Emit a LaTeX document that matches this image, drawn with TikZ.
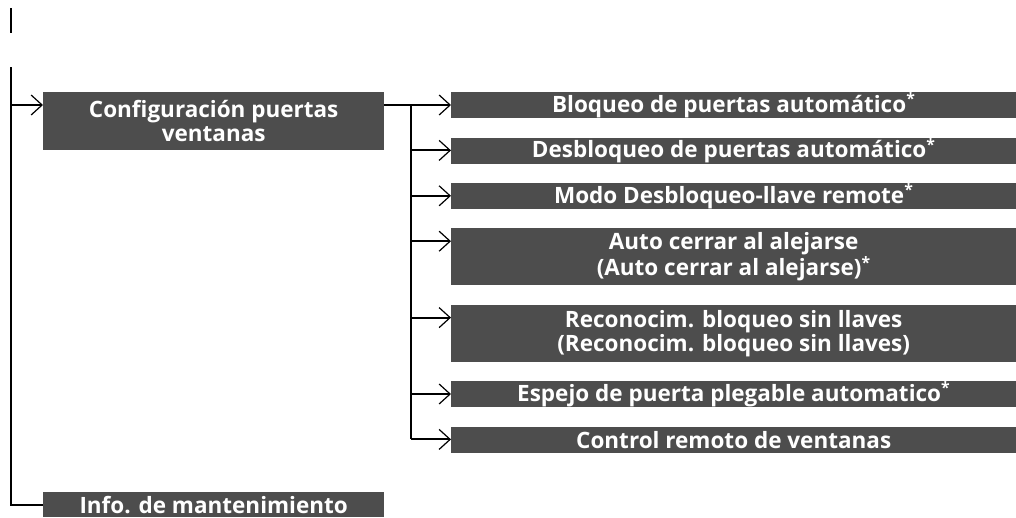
\documentclass[tikz,border=0pt]{standalone}
\usepackage{fontspec}
\setmainfont{Open Sans}
\usetikzlibrary{arrows.meta, positioning}

\definecolor{boxgray}{RGB}{77,77,77}
\newcommand{\optmark}{\textsuperscript{*}}

\tikzset{
  menubox/.style={fill=boxgray, text=white, align=center, inner sep=0pt,
    font=\bfseries\fontsize{22.5}{24}\selectfont},
  leftbox/.style={menubox, minimum width=341pt, minimum height=26pt},
  rightbox/.style={menubox, minimum width=565pt, minimum height=26pt},
  tallbox/.style={rightbox, minimum height=57pt},
  link/.style={line width=2pt},
  menuarrow/.style={link, -{Straight Barb[length=11pt, width=20pt, line width=1.2pt]}},
}

\begin{document}
\begin{tikzpicture}[x=1pt,y=-1pt]
\useasboundingbox (0,0) rectangle (1016,517);
\def\trunkx{11}
\def\splitx{411}

% Top level boxes
\node[leftbox, minimum height=58pt, anchor=north west] (cfg) at (43,92)
  {Configuración puertas\\ventanas};
\node[leftbox, minimum height=25pt, anchor=north west] (info) at (43,492)
  {Info. de mantenimiento};

% Sub menu boxes
\node[rightbox, anchor=north west] (b1) at (451,92) {Bloqueo de puertas automático\optmark};
\node[rightbox, below=19pt of b1] (b2) {Desbloqueo de puertas automático\optmark};
\node[rightbox, below=19pt of b2] (b3) {Modo Desbloqueo-llave remote\optmark};
\node[tallbox, below=19pt of b3] (b4) {Auto cerrar al alejarse\\(Auto cerrar al alejarse)\optmark};
\node[tallbox, below=19pt of b4] (b5) {Reconocim. bloqueo sin llaves\\(Reconocim. bloqueo sin llaves)};
\node[rightbox, below=19pt of b5] (b6) {Espejo de puerta plegable automatico\optmark};
\node[rightbox, below=19pt of b6] (b7) {Control remoto de ventanas};

% Arrow entry points
\foreach \b in {cfg,info,b1,b2,b3,b4,b5,b6,b7}{
  \coordinate[yshift=-13pt] (\b-in) at (\b.north west);
}
\coordinate (top) at (\trunkx,67);
\coordinate (split) at (\splitx,0);

% Main trunk
\draw[link] (\trunkx,8) -- (\trunkx,33);
\draw[link] (top) -- (top |- info-in) -- (info-in);
\draw[menuarrow] (top |- cfg-in) -- (cfg-in);

% Sub trunk
\draw[link] (cfg-in -| cfg.east) -- (cfg-in -| split) -- (split |- b7-in);
\foreach \b in {b1,b2,b3,b4,b5,b6,b7}{
  \draw[menuarrow] (split |- \b-in) -- (\b-in);
}
\end{tikzpicture}
\end{document}
